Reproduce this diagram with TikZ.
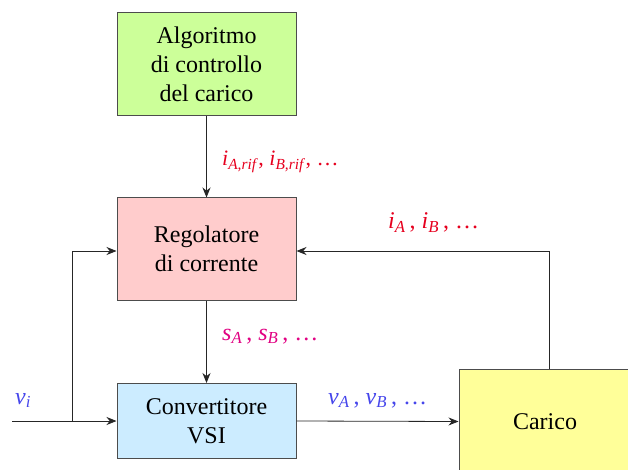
\documentclass[tikz,border=0pt]{standalone}
\usepackage{fontspec}
\setmainfont{Liberation Serif}
\usetikzlibrary{arrows.meta}
\definecolor{cgreen}{RGB}{204,255,153}
\definecolor{cpink}{RGB}{255,204,204}
\definecolor{cblue}{RGB}{204,236,255}
\definecolor{cyellow}{RGB}{255,255,153}
\definecolor{cred}{RGB}{230,0,30}
\definecolor{cmag}{RGB}{225,0,130}
\definecolor{cbl}{RGB}{70,70,235}
\newcommand{\iv}[1]{\textit{#1}}
\newcommand{\sbs}[1]{\textsubscript{\textit{#1}}}
\begin{document}
\begin{tikzpicture}[x=1pt,y=-1pt,
  blk/.style={draw=black!70,line width=1pt,inner sep=0pt,align=center,
    font=\fontsize{24}{29}\selectfont},
  conn/.style={draw=black!85,line width=0.8pt,-{Stealth[length=10pt,width=8pt]}},
  lab/.style={font=\fontsize{24}{28}\selectfont,anchor=base west,inner sep=0pt}]
\useasboundingbox (0,0) rectangle (628,470);
\node[blk,fill=cgreen,minimum width=179pt,minimum height=103pt] (alg) at (206.5,64) {Algoritmo\\di controllo\\del carico};
\node[blk,fill=cpink,minimum width=179pt,minimum height=102pt] (reg) at (206.5,249) {Regolatore\\di corrente};
\node[blk,fill=cblue,minimum width=179pt,minimum height=75pt] (conv) at (206.5,421) {Convertitore\\VSI};
\node[blk,fill=cyellow,minimum width=172pt,minimum height=104pt] (car) at (545,421.5) {Carico};
\coordinate (in) at (12,421);
\coordinate (br) at (72,421);
\coordinate (brt) at (72,251);
\coordinate (fbt) at (549,251);
\draw[conn] (alg.south) -- (reg.north);
\draw[conn] (reg.south) -- (conv.north);
\draw[conn] (in) -- (conv.west);
\draw[conn] (br) -- (brt) -- (brt -| reg.west);
\draw[conn] (conv.east) -- (car.west);
\draw[conn] (fbt |- car.north) -- (fbt) -- (fbt -| reg.east);
\node[lab,text=cred,font=\fontsize{22}{26}\selectfont] (l1) at (222,166) {\iv{i}\sbs{A,rif}, \iv{i}\sbs{B,rif}, \ldots};
\node[lab,text=cred] (l2) at (388,229) {\iv{i}\sbs{A}\,, \iv{i}\sbs{B}\,, \ldots};
\node[lab,text=cmag] (l3) at (222,340) {\iv{s}\sbs{A}\,, \iv{s}\sbs{B}\,, \ldots};
\node[lab,text=cbl] (l4) at (328,404) {\iv{v}\sbs{A}\,, \iv{v}\sbs{B}\,, \ldots};
\node[lab,text=cbl] (l5) at (15,404) {\iv{v}\sbs{i}};
\end{tikzpicture}
\end{document}
